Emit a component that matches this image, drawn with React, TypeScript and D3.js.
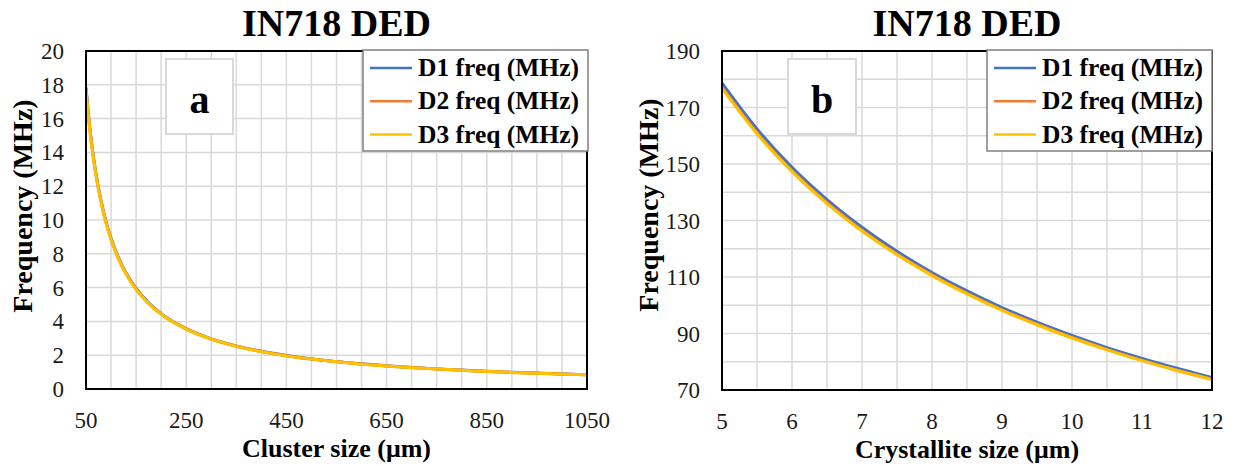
import React from "react";
import * as d3 from "d3";

// ---- Data ----
const clusterSize = [50, 55, 60, 65, 70, 80, 90, 100, 115, 130, 150, 175, 200, 250, 300, 350, 400, 450, 500, 550, 600, 650, 700, 750, 800, 850, 900, 950, 1000, 1050];
const clusterD1 = [17.84, 16.22, 14.87, 13.72, 12.74, 11.15, 9.91, 8.92, 7.76, 6.86, 5.95, 5.10, 4.46, 3.57, 2.97, 2.55, 2.23, 1.98, 1.78, 1.62, 1.49, 1.37, 1.27, 1.19, 1.12, 1.05, 0.99, 0.94, 0.89, 0.85];
const clusterD2 = [17.72, 16.11, 14.77, 13.63, 12.66, 11.08, 9.84, 8.86, 7.70, 6.82, 5.91, 5.06, 4.43, 3.54, 2.95, 2.53, 2.22, 1.97, 1.77, 1.61, 1.48, 1.36, 1.27, 1.18, 1.11, 1.04, 0.98, 0.93, 0.89, 0.84];
const clusterD3 = [17.68, 16.07, 14.73, 13.60, 12.63, 11.05, 9.82, 8.84, 7.69, 6.80, 5.89, 5.05, 4.42, 3.54, 2.95, 2.53, 2.21, 1.96, 1.77, 1.61, 1.47, 1.36, 1.26, 1.18, 1.11, 1.04, 0.98, 0.93, 0.88, 0.84];

const crystalliteSize = [5, 5.5, 6, 6.5, 7, 7.5, 8, 8.5, 9, 9.5, 10, 10.5, 11, 11.5, 12];
const crystD1 = [178.6, 162.4, 148.8, 137.4, 127.6, 119.1, 111.6, 105.1, 99.2, 94.0, 89.3, 85.0, 81.2, 77.7, 74.4];
const crystD2 = [177.2, 161.1, 147.7, 136.3, 126.6, 118.1, 110.8, 104.2, 98.4, 93.3, 88.6, 84.4, 80.5, 77.0, 73.8];
const crystD3 = [176.8, 160.7, 147.3, 136.0, 126.3, 117.9, 110.5, 104.0, 98.2, 93.1, 88.4, 84.2, 80.4, 76.9, 73.7];

const seriesNames = ["D1 freq (MHz)", "D2 freq (MHz)", "D3 freq (MHz)"];
const seriesColors = ["#4472C4", "#ED7D31", "#FFC000"];

const clusterTicks = [50, 250, 450, 650, 850, 1050];
const clusterFreqTicks = [0, 2, 4, 6, 8, 10, 12, 14, 16, 18, 20];
const crystTicks = [5, 6, 7, 8, 9, 10, 11, 12];
const crystFreqTicks = [70, 90, 110, 130, 150, 170, 190];

const FONT = '"Liberation Serif", "Times New Roman", Tinos, "DejaVu Serif", serif';

type PanelProps = {
  id: string;
  left: number;
  right: number;
  top: number;
  bottom: number;
  xDomain: [number, number];
  yDomain: [number, number];
  xTicks: number[];
  yTicks: number[];
  xMinor: number;
  yMinor: number;
  xs: number[];
  series: number[][];
  title: string;
  xTitle: string;
  letter: string;
  letterBox: [number, number, number, number];
  legendBox: [number, number, number, number];
  yTitleX: number;
  yTitleY: number;
};

function Panel(p: PanelProps) {
  const x = d3.scaleLinear().domain(p.xDomain).range([p.left, p.right]);
  const y = d3.scaleLinear().domain(p.yDomain).range([p.bottom, p.top]);
  const xGrid = d3.range(p.xDomain[0], p.xDomain[1] + 1e-9, p.xMinor);
  const yGrid = d3.range(p.yDomain[0], p.yDomain[1] + 1e-9, p.yMinor);
  const line = d3
    .line<number>()
    .x((_, i) => x(p.xs[i]))
    .y((d) => y(d))
    .curve(d3.curveMonotoneX);
  const [lx, ly, lw, lh] = p.legendBox;
  const [bx, by, bw, bh] = p.letterBox;
  const cx = (p.left + p.right) / 2;
  const txt = { fontFamily: FONT } as React.CSSProperties;
  return (
    <g>
      <defs>
        <clipPath id={p.id}>
          <rect x={p.left} y={p.top - 2} width={p.right - p.left + 2} height={p.bottom - p.top + 2} />
        </clipPath>
      </defs>
      {xGrid.map((v, i) => (
        <line key={"gx" + i} x1={x(v)} x2={x(v)} y1={p.top} y2={p.bottom} stroke="#d9d9d9" strokeWidth={1.5} />
      ))}
      {yGrid.map((v, i) => (
        <line key={"gy" + i} x1={p.left} x2={p.right} y1={y(v)} y2={y(v)} stroke="#d9d9d9" strokeWidth={1.5} />
      ))}
      <rect x={bx} y={by} width={bw} height={bh} fill="#fff" stroke="#d9d9d9" strokeWidth={2} />
      <text x={bx + bw / 2} y={by + 54} textAnchor="middle" style={txt} fontWeight="bold" fontSize={40} fill="#000">
        {p.letter}
      </text>
      <g clipPath={`url(#${p.id})`}>
        {p.series.map((s, i) => (
          <path key={"s" + i} d={line(s) || ""} fill="none" stroke={seriesColors[i]} strokeWidth={3} />
        ))}
      </g>
      <rect x={p.left} y={p.top} width={p.right - p.left} height={p.bottom - p.top} fill="none" stroke="#000" strokeWidth={2} />
      {p.yTicks.map((v, i) => (
        <text key={"yt" + i} x={p.left - 22} y={y(v) + 8} textAnchor="end" style={txt} fontSize={23} fill="#1a1a1a">
          {v}
        </text>
      ))}
      {p.xTicks.map((v, i) => (
        <text key={"xt" + i} x={x(v)} y={p.bottom + 39} textAnchor="middle" style={txt} fontSize={23} fill="#1a1a1a">
          {v}
        </text>
      ))}
      <text x={cx} y={36} textAnchor="middle" style={txt} fontWeight="bold" fontSize={38} fill="#000">
        {p.title}
      </text>
      <text x={cx} y={p.bottom + 68} textAnchor="middle" style={txt} fontWeight="bold" fontSize={26} fill="#000">
        {p.xTitle}
      </text>
      <text
        transform={`translate(${p.yTitleX},${p.yTitleY}) rotate(-90)`}
        textAnchor="middle"
        dominantBaseline="central"
        style={txt}
        fontWeight="bold"
        fontSize={28}
        fill="#000"
      >
        Frequency (MHz)
      </text>
      <rect x={lx} y={ly} width={lw} height={lh} fill="#fff" stroke="#7f7f7f" strokeWidth={1.5} />
      {seriesNames.map((n, i) => (
        <g key={"lg" + i}>
          <line x1={lx + 7} x2={lx + 49} y1={ly + 18 + i * 33.3} y2={ly + 18 + i * 33.3} stroke={seriesColors[i]} strokeWidth={2.5} />
          <text x={lx + 55} y={ly + 26 + i * 33.3} style={txt} fontWeight="bold" fontSize={25.5} fill="#000">
            {n}
          </text>
        </g>
      ))}
    </g>
  );
}

export default function App() {
  return (
    <svg width={1238} height={466} style={{ position: "absolute", left: 0, top: 0, background: "#fff" }}>
      <rect width={1238} height={466} fill="#fff" />
      <Panel
        id="clipA"
        left={86}
        right={587}
        top={51}
        bottom={389}
        xDomain={[50, 1050]}
        yDomain={[0, 20]}
        xTicks={clusterTicks}
        yTicks={clusterFreqTicks}
        xMinor={50}
        yMinor={2}
        xs={clusterSize}
        series={[clusterD1, clusterD2, clusterD3]}
        title="IN718 DED"
        xTitle="Cluster size (μm)"
        letter="a"
        letterBox={[166, 59, 67, 75]}
        legendBox={[363, 50, 225, 101]}
        yTitleX={22}
        yTitleY={206}
      />
      <Panel
        id="clipB"
        left={722}
        right={1212}
        top={51}
        bottom={390}
        xDomain={[5, 12]}
        yDomain={[70, 190]}
        xTicks={crystTicks}
        yTicks={crystFreqTicks}
        xMinor={0.5}
        yMinor={10}
        xs={crystalliteSize}
        series={[crystD1, crystD2, crystD3]}
        title="IN718 DED"
        xTitle="Crystallite size (μm)"
        letter="b"
        letterBox={[788, 59, 68, 75]}
        legendBox={[987, 50, 225, 101]}
        yTitleX={648}
        yTitleY={205}
      />
    </svg>
  );
}
